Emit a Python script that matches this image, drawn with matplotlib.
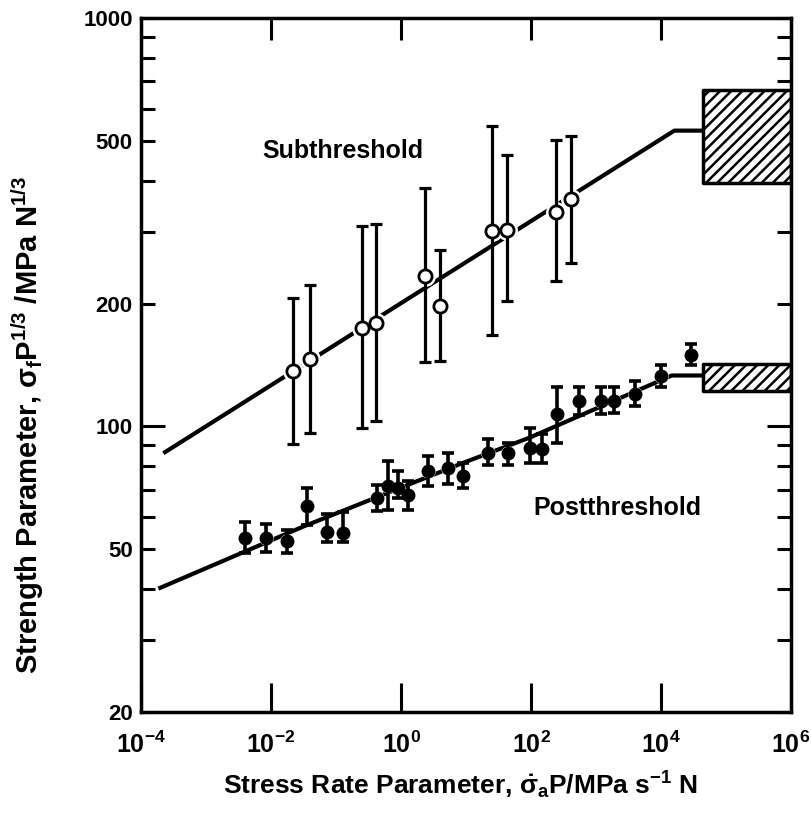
import numpy as np
import matplotlib.pyplot as plt

plt.rcParams['font.family'] = 'Liberation Sans'
plt.rcParams['font.weight'] = 'bold'
plt.rcParams['axes.labelweight'] = 'bold'
plt.rcParams['mathtext.fontset'] = 'custom'
plt.rcParams['mathtext.rm'] = 'Liberation Sans:bold'
plt.rcParams['mathtext.it'] = 'Liberation Sans:bold'
plt.rcParams['mathtext.bf'] = 'Liberation Sans:bold'
plt.rcParams['hatch.linewidth'] = 1.8

# subthreshold data (open circles)
sub_x = [0.022, 0.0398, 0.248, 0.408, 2.32, 3.98, 24.9, 42.3, 240, 408]
sub_y = [136.6, 146, 174.4, 179.4, 234.2, 197.1, 300.6, 303.4, 335.3, 359.7]
sub_hi = [206.7, 222, 309, 313, 383, 271, 543, 461.7, 503.5, 515]
sub_lo = [90.8, 96.3, 98.9, 103.3, 143.8, 144.4, 167.9, 202.8, 226.6, 252]

# postthreshold data (filled circles)
post_x = [0.00398, 0.00828, 0.01744, 0.0361, 0.0720, 0.1268, 0.431, 0.638,
          0.908, 1.295, 2.57, 5.34, 9.08, 22.0, 44.7, 96.5, 146, 248, 543,
          1180, 1892, 3981, 9890, 28600]
post_y = [53.3, 53.3, 52.3, 63.8, 55.3, 55.0, 66.9, 71.5, 70.8, 68.1, 77.8,
          79.3, 75.6, 86.3, 86.3, 88.8, 87.9, 107.2, 115.3, 115.7, 115.7,
          120.1, 133.3, 149.3]
post_hi = [58.3, 57.8, 55.7, 70.8, 61.2, 61.7, 72.1, 82.3, 77.8, 73.5, 84.7,
           86.3, 81.5, 93.0, 91.3, 99.4, 95.7, 124.8, 124.8, 124.8, 124.8,
           128.9, 141.6, 159.5]
post_lo = [48.9, 49.4, 48.9, 57.5, 52.1, 52.1, 62.0, 62.6, 66.9, 62.6, 71.7,
           72.5, 70.8, 80.7, 80.7, 81.5, 81.5, 91.3, 106.7, 107.2, 107.8,
           112.5, 124.8, 141.1]

# fitted lines
sub_line_x = [2.2e-4, 16000, 44300]
sub_line_y = [86.0, 530, 530]
post_line_x = [1.85e-4, 0.0314, 9.08, 96.5, 14600, 44300]
post_line_y = [40.1, 56.9, 81.5, 94.0, 133.3, 133.3]

# hatched bands (x range, y range)
sub_box_x = [44300, 1e6]
sub_box_y = [395, 668]
post_box_x = [44300, 1e6]
post_box_y = [122.4, 142.3]

fig = plt.figure(figsize=(8.11, 8.22), dpi=100)
ax = fig.add_axes([0.1739, 0.1338, 0.8015, 0.8443])
ax.set_xscale('log')
ax.set_yscale('log')

# lines
ax.plot(sub_line_x, sub_line_y, color='black', lw=3, solid_capstyle='butt', zorder=1)
ax.plot(post_line_x, post_line_y, color='black', lw=3, solid_capstyle='butt', zorder=1)

# white halos so the line breaks around the points
ax.plot(sub_x, sub_y, 'o', ms=14, color='white', zorder=2)
ax.plot(post_x, post_y, 'o', ms=9.5, color='white', zorder=2)

sub_y_arr = np.array(sub_y)
ax.errorbar(sub_x, sub_y, yerr=[sub_y_arr - np.array(sub_lo), np.array(sub_hi) - sub_y_arr],
            fmt='none', ecolor='black', elinewidth=2.3, capsize=4, capthick=2.3, zorder=3)
post_y_arr = np.array(post_y)
ax.errorbar(post_x, post_y, yerr=[post_y_arr - np.array(post_lo), np.array(post_hi) - post_y_arr],
            fmt='none', ecolor='black', elinewidth=2.6, capsize=4.5, capthick=2.6, zorder=3)

ax.plot(sub_x, sub_y, 'o', ms=9.5, mfc='white', mec='black', mew=2, zorder=4)
ax.plot(post_x, post_y, 'o', ms=9, color='black', zorder=4)

# hatched boxes
ax.fill_between(sub_box_x, sub_box_y[0], sub_box_y[1], facecolor='white',
                edgecolor='black', hatch='///', lw=2.5, zorder=2)
ax.fill_between(post_box_x, post_box_y[0], post_box_y[1], facecolor='white',
                edgecolor='black', hatch='///', lw=2.5, zorder=2)

ax.set_xlim(1e-4, 1e6)
ax.set_ylim(20, 1000)

# x ticks
xt = [1e-4, 1e-2, 1, 1e2, 1e4, 1e6]
xt_labels = [r'$10^{-4}$', r'$10^{-2}$', r'$10^{0}$', r'$10^{2}$', r'$10^{4}$', r'$10^{6}$']
ax.set_xticks(xt)
ax.set_xticklabels(xt_labels, fontsize=18)
ax.xaxis.set_minor_locator(plt.NullLocator())
ax.tick_params(axis='x', which='major', direction='in', length=21, width=2.2,
               top=True, bottom=True, pad=14)
for t in ax.xaxis.get_major_ticks():
    t.tick2line.set_markersize(16)

# y ticks
yt = [20, 50, 100, 200, 500, 1000]
ax.set_yticks(yt)
ax.set_yticklabels([str(v) for v in yt], fontsize=16)
ax.set_yticks([30, 40, 60, 70, 80, 90, 300, 400, 600, 700, 800, 900], minor=True)
ax.yaxis.set_minor_formatter(plt.NullFormatter())
ax.tick_params(axis='y', which='both', direction='in', length=10, width=2.2,
               left=True, right=True, pad=6)
ax.yaxis.get_major_ticks()[2].tick1line.set_markersize(17)
ax.yaxis.get_major_ticks()[2].tick2line.set_markersize(17)

for s in ax.spines.values():
    s.set_linewidth(2.5)

ax.text(0.128, 473, 'Subthreshold', fontsize=18, ha='center', va='center')
ax.text(2104, 63.2, 'Postthreshold', fontsize=18, ha='center', va='center')

ax.set_xlabel(r'Stress Rate Parameter, $\dot{\sigma}_a$P/MPa s$^{-1}$ N', fontsize=19)
ax.set_ylabel(r'Strength Parameter, $\sigma_f$P$^{1/3}$ /MPa N$^{1/3}$', fontsize=21)
ax.xaxis.set_label_coords(0.492, -0.083)
ax.yaxis.set_label_coords(-0.146, 0.4135)

fig.savefig('out.png', dpi=100)
